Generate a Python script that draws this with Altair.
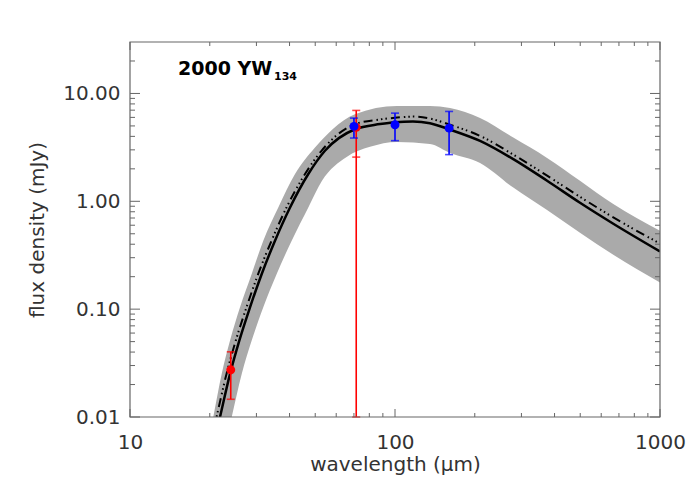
import altair as alt
import pandas as pd

# ---------------- data ----------------
# model curve (solid)
SOLID_WL = [21.0, 21.86, 23.85, 25.85, 28.37, 31.41, 35.25, 40.17, 47.08, 54.4, 70.6, 87.8, 100.0, 116.9, 135.5, 161.3, 209.4, 279.5, 373.6, 499.0, 666.4, 1000.0]
SOLID_F = [0.0065, 0.010, 0.0251, 0.0511, 0.104, 0.212, 0.431, 0.876, 1.79, 2.94, 4.66, 5.2, 5.42, 5.5, 5.3, 4.62, 3.63, 2.46, 1.56, 0.97, 0.62, 0.343]

# second model curve (dash-dot-dot-dot)
DASH_WL = [20.5, 21.21, 23.13, 25.07, 27.52, 30.46, 34.2, 38.96, 45.75, 52.8, 70.6, 87.8, 100.0, 116.9, 135.5, 161.3, 209.4, 279.5, 373.6, 499.0, 666.4, 1000.0]
DASH_F = [0.007, 0.010, 0.0251, 0.0511, 0.104, 0.212, 0.431, 0.876, 1.79, 2.94, 5.19, 5.74, 5.95, 6.1, 5.85, 5.13, 4.04, 2.71, 1.74, 1.10, 0.71, 0.406]

# uncertainty band, upper edge
UP_WL = [20.0, 20.62, 22.18, 23.85, 26.01, 28.79, 31.84, 36.27, 41.95, 49.9, 58.3, 70.6, 101.7, 135.5, 161.3, 209.4, 279.5, 373.6, 499.0, 666.4, 1000.0]
UP_F = [0.0068, 0.010, 0.0251, 0.0511, 0.104, 0.212, 0.431, 0.876, 1.79, 3.15, 4.69, 6.42, 7.66, 7.66, 7.34, 5.93, 3.90, 2.54, 1.55, 0.942, 0.533]

# uncertainty band, lower edge
LO_WL = [23.0, 24.2, 26.4, 28.79, 31.84, 35.77, 40.75, 47.08, 53.03, 65.7, 80.5, 101.7, 135.5, 161.3, 209.4, 279.5, 373.6, 499.0, 666.4, 1000.0]
LO_F = [0.0058, 0.010, 0.0251, 0.0511, 0.104, 0.212, 0.431, 0.876, 1.55, 2.58, 3.20, 3.55, 3.40, 2.81, 2.27, 1.34, 0.834, 0.511, 0.32, 0.177]

# measurements
RED_WL = [24.0, 71.4]
RED_F = [0.0274, 4.85]
RED_LO = [0.0146, 2.57]
RED_HI = [0.0402, 6.96]
RED_LO_FULL = [0.0146, 0.01]   # 70 um bar reaches the bottom of the axis

BLUE_WL = [70.0, 100.0, 160.0]
BLUE_F = [4.95, 5.13, 4.77]
BLUE_LO = [3.86, 3.65, 2.71]
BLUE_HI = [5.91, 6.57, 6.81]

X_MAJOR = [10, 100, 1000]
X_MINOR = [20, 30, 40, 50, 60, 70, 80, 90, 200, 300, 400, 500, 600, 700, 800, 900]
Y_MAJOR = [0.01, 0.1, 1, 10]
Y_MINOR = [0.02, 0.03, 0.04, 0.05, 0.06, 0.07, 0.08, 0.09,
           0.2, 0.3, 0.4, 0.5, 0.6, 0.7, 0.8, 0.9,
           2, 3, 4, 5, 6, 7, 8, 9, 20]

X_LABELS = [10, 100, 1000]
Y_LABELS = [0.01, 0.1, 1, 10]

# ---------------- chart ----------------
W, H = 530, 375
FONT = "DejaVu Sans"
TXT = "#333333"
FRAME = "#666666"
FS = 20

xs = alt.Scale(type="log", domain=[10, 1000], nice=False)
ys = alt.Scale(type="log", domain=[0.01, 30], nice=False)

solid = pd.DataFrame({"wl": SOLID_WL, "f": SOLID_F})
dash = pd.DataFrame({"wl": DASH_WL, "f": DASH_F})
up = pd.DataFrame({"wl": UP_WL, "f": UP_F})
lo = pd.DataFrame({"wl": LO_WL, "f": LO_F})

bars = pd.DataFrame({
    "wl": RED_WL + BLUE_WL,
    "lo": RED_LO_FULL + BLUE_LO,
    "hi": RED_HI + BLUE_HI,
    "c": ["red"] * len(RED_WL) + ["blue"] * len(BLUE_WL),
})
caps = pd.DataFrame({
    "wl": RED_WL + RED_WL + [RED_WL[1]] + BLUE_WL + BLUE_WL,
    "f": RED_LO + RED_HI + [RED_LO_FULL[1]] + BLUE_LO + BLUE_HI,
    "c": ["red"] * 5 + ["blue"] * 6,
})
red_pts = pd.DataFrame({"wl": RED_WL, "f": RED_F})
blue_pts = pd.DataFrame({"wl": BLUE_WL, "f": BLUE_F})

x_axis = alt.Axis(values=X_LABELS, format="d", ticks=False, domain=False, grid=False,
                  labelFont=FONT, labelFontSize=FS, labelColor=TXT, labelPadding=15,
                  labelFlush=False, labelOverlap=False,
                  title="wavelength (μm)", titleFont=FONT, titleFontSize=FS,
                  titleFontWeight="normal", titleColor=TXT, titlePadding=2)
y_axis = alt.Axis(values=Y_LABELS, format=".2f", ticks=False, domain=False, grid=False,
                  labelFont=FONT, labelFontSize=FS, labelColor=TXT, labelPadding=10,
                  labelFlush=False, labelOverlap=False,
                  title="flux density (mJy)", titleFont=FONT, titleFontSize=FS,
                  titleFontWeight="normal", titleColor=TXT, titlePadding=15)

band_hi = alt.Chart(up).mark_area(color="#aaaaaa", interpolate="monotone", clip=True).encode(
    x=alt.X("wl:Q", scale=xs, axis=x_axis),
    y=alt.Y("f:Q", scale=ys, axis=y_axis, stack=None),
    y2=alt.value(H),
)
band_lo = alt.Chart(lo).mark_area(color="white", interpolate="monotone", clip=True).encode(
    x=alt.X("wl:Q", scale=xs),
    y=alt.Y("f:Q", scale=ys, stack=None),
    y2=alt.value(H),
)
line_solid = alt.Chart(solid).mark_line(color="black", strokeWidth=2.5, interpolate="monotone", clip=True).encode(
    x=alt.X("wl:Q", scale=xs),
    y=alt.Y("f:Q", scale=ys),
)
line_dash = alt.Chart(dash).mark_line(color="black", strokeWidth=2, interpolate="monotone", clip=True,
                                      strokeDash=[9, 4, 1.5, 3, 1.5, 3, 1.5, 4]).encode(
    x=alt.X("wl:Q", scale=xs),
    y=alt.Y("f:Q", scale=ys),
)
err = alt.Chart(bars).mark_rule(strokeWidth=1.6, clip=True).encode(
    x=alt.X("wl:Q", scale=xs),
    y=alt.Y("lo:Q", scale=ys),
    y2="hi:Q",
    color=alt.Color("c:N", scale=None),
)
cap = alt.Chart(caps).mark_tick(orient="horizontal", size=8, thickness=1.6).encode(
    x=alt.X("wl:Q", scale=xs),
    y=alt.Y("f:Q", scale=ys),
    color=alt.Color("c:N", scale=None),
)
pr = alt.Chart(red_pts).mark_circle(color="red", size=80, opacity=1).encode(
    x=alt.X("wl:Q", scale=xs),
    y=alt.Y("f:Q", scale=ys),
)
pb = alt.Chart(blue_pts).mark_circle(color="blue", size=80, opacity=1).encode(
    x=alt.X("wl:Q", scale=xs),
    y=alt.Y("f:Q", scale=ys),
)

# inward ticks on all four sides
def xticks(vals, length):
    d = pd.DataFrame({"v": vals})
    bot = alt.Chart(d).mark_rule(color=FRAME, strokeWidth=1).encode(
        x=alt.X("v:Q", scale=xs), y=alt.value(H), y2=alt.value(H - length))
    top = alt.Chart(d).mark_rule(color=FRAME, strokeWidth=1).encode(
        x=alt.X("v:Q", scale=xs), y=alt.value(0), y2=alt.value(length))
    return [bot, top]

def yticks(vals, length):
    d = pd.DataFrame({"v": vals})
    left = alt.Chart(d).mark_rule(color=FRAME, strokeWidth=1).encode(
        y=alt.Y("v:Q", scale=ys), x=alt.value(0), x2=alt.value(length))
    right = alt.Chart(d).mark_rule(color=FRAME, strokeWidth=1).encode(
        y=alt.Y("v:Q", scale=ys), x=alt.value(W - length), x2=alt.value(W))
    return [left, right]

tick_layers = xticks(X_MAJOR, 8) + xticks(X_MINOR, 4) + yticks(Y_MAJOR, 10) + yticks(Y_MINOR, 5)

frame = alt.Chart(pd.DataFrame({"a": [0]})).mark_rect(filled=False, stroke=FRAME, strokeWidth=1.2, fillOpacity=0).encode(
    x=alt.value(0), x2=alt.value(W), y=alt.value(0), y2=alt.value(H))

name_main = alt.Chart(pd.DataFrame({"t": ["2000 YW"]})).mark_text(
    align="left", baseline="alphabetic", font=FONT, fontSize=19, fontWeight="bold", color="black").encode(
    x=alt.value(48), y=alt.value(33), text="t:N")
name_sub = alt.Chart(pd.DataFrame({"t": ["134"]})).mark_text(
    align="left", baseline="alphabetic", font=FONT, fontSize=11, fontWeight="bold", color="black").encode(
    x=alt.value(144), y=alt.value(38), text="t:N")

chart = alt.layer(
    band_hi, band_lo, line_solid, line_dash, err, cap, pr, pb,
    *tick_layers, frame, name_main, name_sub
).properties(
    width=W, height=H,
    padding={"left": 122, "top": 34, "right": 30, "bottom": 75},
    autosize=alt.AutoSizeParams(type="none"),
).configure_view(stroke=None)

chart.save("out.html", embed_options={"renderer": "svg", "actions": False})
